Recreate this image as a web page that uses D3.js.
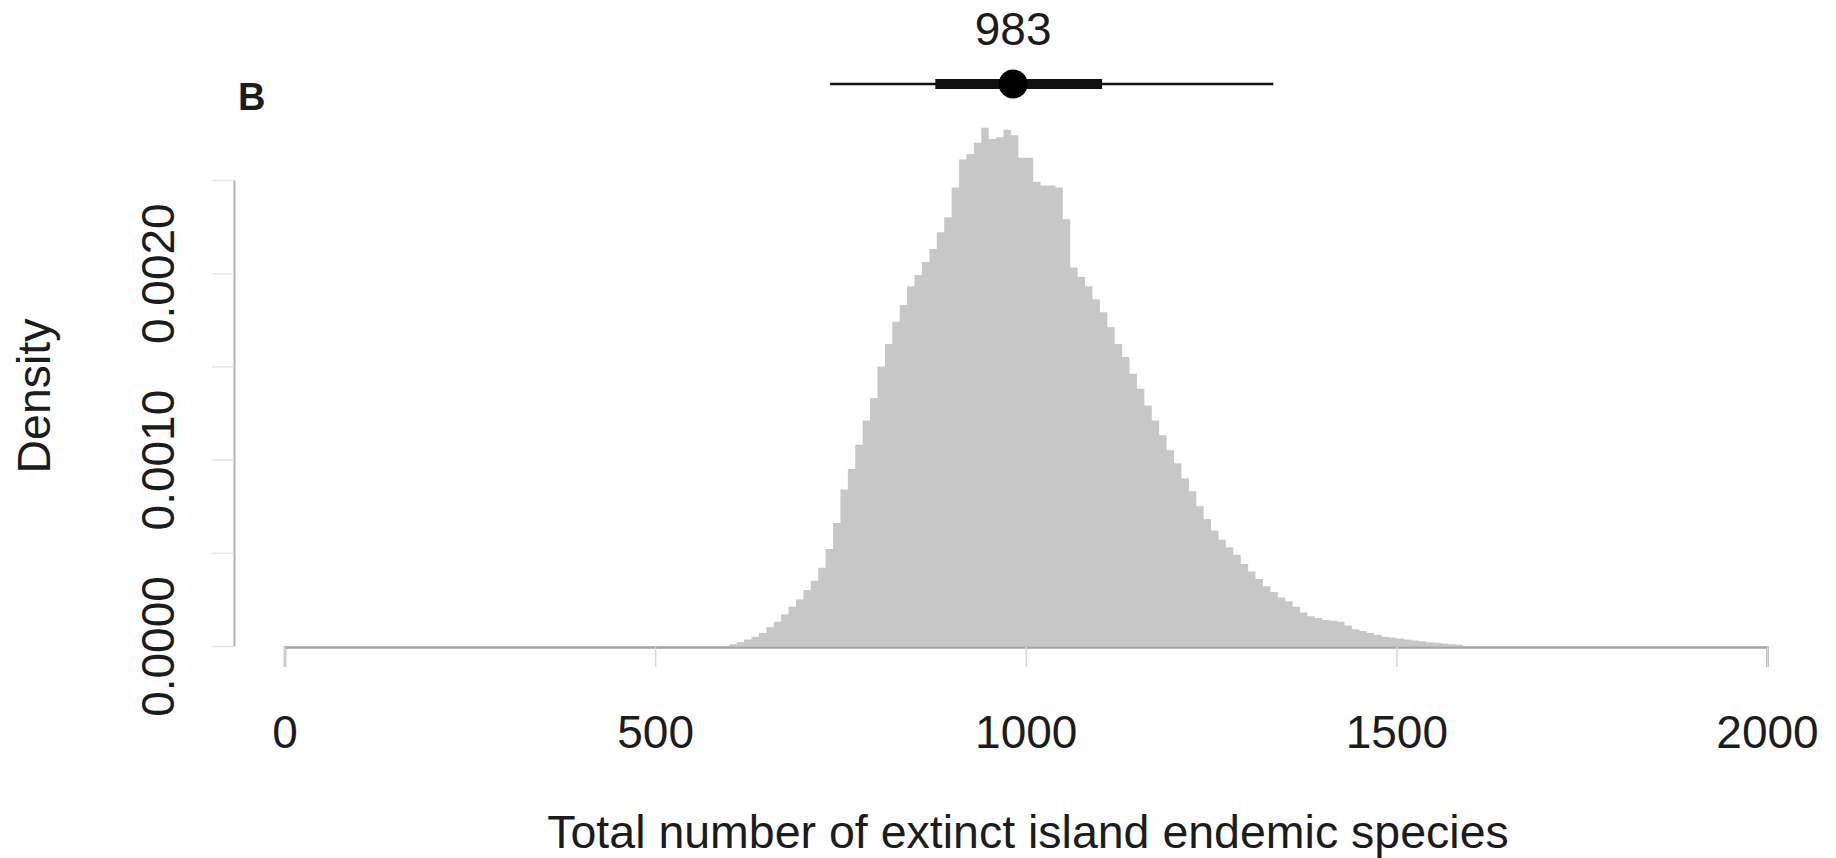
<!DOCTYPE html>
<html>
<head>
<meta charset="utf-8">
<script src="https://cdn.jsdelivr.net/npm/d3@7"></script>
<style>
  html, body { margin: 0; padding: 0; background: #ffffff; }
  svg { display: block; }
  text { font-family: "Liberation Sans", Arial, sans-serif; fill: #1c1c1c; }
</style>
</head>
<body>
<svg id="chart" width="1836" height="858"></svg>
<script>
// ---- data ----
const binEdges = [600,610,620,630,640,650,660,670,680,690,700,710,720,730,740,750,760,770,780,790,800,
  810,820,830,840,850,860,870,880,890,900,910,920,930,940,950,960,970,980,990,1000,
  1010,1020,1030,1040,1050,1060,1070,1080,1090,1100,1110,1120,1130,1140,1150,1160,1170,1180,1190,1200,
  1210,1220,1230,1240,1250,1260,1270,1280,1290,1300,1310,1320,1330,1340,1350,1360,1370,1380,1390,1400,
  1410,1420,1430,1440,1450,1460,1470,1480,1490,1500,1510,1520,1530,1540,1550,1560,1570,1580,1590];
const densities = [0.00001,
  0.00002,0.000035,0.00005,0.00007,0.00010,0.00013,0.00017,0.00021,0.00025,0.00030,
  0.00035,0.00042,0.00052,0.00066,0.00084,0.00095,0.00108,0.00121,0.00133,0.00150,
  0.00162,0.00174,0.00183,0.00193,0.00199,0.00206,0.00213,0.00222,0.00230,0.00246,
  0.00261,0.00264,0.00270,0.00278,0.00272,0.00273,0.00277,0.00274,0.00262,0.00262,
  0.00249,0.00247,0.00247,0.00246,0.00229,0.00203,0.00198,0.00193,0.00186,0.00179,
  0.00171,0.00162,0.00155,0.00146,0.00138,0.00129,0.00121,0.00113,0.00105,0.00098,
  0.00090,0.00083,0.00075,0.00068,0.00062,0.00057,0.00053,0.00049,0.00044,0.00040,
  0.00036,0.00032,0.00029,0.00026,0.00024,0.00021,0.00018,0.00016,0.00015,0.00014,
  0.000135,0.00013,0.00011,0.00009,0.00008,0.00007,0.00006,0.00005,0.000045,0.00004,
  0.000035,0.00003,0.000025,0.00002,0.000017,0.000014,0.00001,0.000007];
const xTickValues = [0, 500, 1000, 1500, 2000];
const yTickValues = [0, 0.0005, 0.001, 0.0015, 0.002, 0.0025];
const yTickLabels = ["0.0000", "", "0.0010", "", "0.0020", ""];
const medianValue = [983];
const interval50 = [878, 1103];
const interval95 = [736, 1334];
const panelLabel = "B";
const xTitle = "Total number of extinct island endemic species";
const yTitle = "Density";

// ---- drawing ----
const svg = d3.select("#chart");
const x = d3.scaleLinear().domain([0, 2000]).range([284.5, 1767]);
const y = d3.scaleLinear().domain([0, 0.0025]).range([646, 180]);

// histogram as one stepped area (no seams between bars)
const stepPts = binEdges.map((e, i) => ({ e, d: i < densities.length ? densities[i] : densities[densities.length - 1] }));
const area = d3.area()
  .curve(d3.curveStepAfter)
  .x(p => x(p.e))
  .y0(y(0))
  .y1(p => y(p.d));
svg.append("path").datum(stepPts)
  .attr("d", area)
  .attr("fill", "#c7c7c7")
  .attr("stroke", "none");

// x axis
const xAxis = d3.axisBottom(x).tickValues(xTickValues).tickFormat(d3.format("d"))
  .tickSize(20).tickPadding(48);
const gx = svg.append("g").attr("transform", `translate(0,${y(0) + 1})`).call(xAxis);
gx.select(".domain").attr("stroke", "#a4a4a4").attr("stroke-width", 2.5);
gx.selectAll(".tick line").attr("stroke", "#dadada").attr("stroke-width", 1.5);
gx.selectAll(".tick text").attr("font-size", 46).attr("fill", "#1c1c1c")
  .style("font-family", '"Liberation Sans", Arial, sans-serif');

// y axis
const yAxis = d3.axisLeft(y).tickValues(yTickValues).tickFormat((d, i) => yTickLabels[i])
  .tickSize(22).tickSizeOuter(0);
const gy = svg.append("g").attr("transform", "translate(234,0)").call(yAxis);
gy.select(".domain").attr("stroke", "#b4b4b4").attr("stroke-width", 2);
gy.selectAll(".tick line").attr("stroke", "#e6e6e6").attr("stroke-width", 1.5);
gy.selectAll(".tick text")
  .attr("font-size", 46).attr("fill", "#1c1c1c")
  .style("font-family", '"Liberation Sans", Arial, sans-serif')
  .attr("text-anchor", "middle")
  .attr("dy", 0)
  .attr("x", 0).attr("y", 0)
  .attr("transform", "translate(-60,0) rotate(-90)");

// axis titles
svg.append("text").attr("x", 1028).attr("y", 848)
  .attr("text-anchor", "middle").attr("font-size", 46.5).text(xTitle);
svg.append("text")
  .attr("transform", "translate(50,396) rotate(-90)")
  .attr("text-anchor", "middle").attr("font-size", 46.5).text(yTitle);

// panel label
svg.append("text").attr("x", 238).attr("y", 110)
  .attr("font-size", 38).attr("font-weight", "bold").text(panelLabel);

// median + intervals
const yPt = 84;
svg.append("line").attr("x1", x(interval95[0])).attr("x2", x(interval95[1]))
  .attr("y1", yPt).attr("y2", yPt).attr("stroke", "#111").attr("stroke-width", 2.5);
svg.append("line").attr("x1", x(interval50[0])).attr("x2", x(interval50[1]))
  .attr("y1", yPt).attr("y2", yPt).attr("stroke", "#111").attr("stroke-width", 10);
svg.append("circle").attr("cx", x(medianValue[0])).attr("cy", yPt).attr("r", 14.5).attr("fill", "#000");
svg.append("text").attr("x", x(medianValue[0])).attr("y", 45)
  .attr("text-anchor", "middle").attr("font-size", 46).text(String(medianValue[0]));
</script>
</body>
</html>
